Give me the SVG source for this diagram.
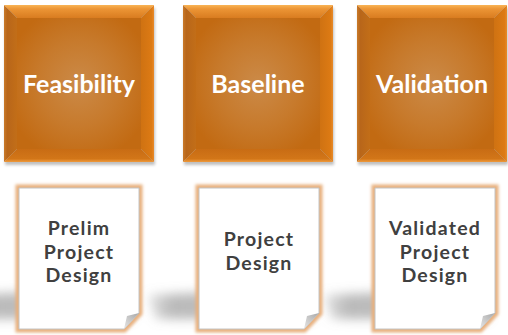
<svg xmlns="http://www.w3.org/2000/svg" width="508" height="335" viewBox="0 0 508 335">
<style>
.btxt{font-family:"Lato","Open Sans","DejaVu Sans",sans-serif;font-weight:700;font-size:25px;fill:#ffffff;text-anchor:middle}
.dtxt{font-family:"Lato","Open Sans","DejaVu Sans",sans-serif;font-weight:700;font-size:19.5px;fill:#404040;text-anchor:middle;letter-spacing:1.2px}
.page{fill:#ffffff;stroke:#c4c4c4;stroke-width:1}
.glow{fill:none;stroke:#e8b07e;stroke-width:7}
.fold{fill:url(#foldG)}
.pshadow{fill:url(#shG)}
</style>
<defs>
<filter id="soft" x="-10%" y="-10%" width="120%" height="120%"><feGaussianBlur stdDeviation="1.4"/></filter>
<filter id="blur5" x="-30%" y="-200%" width="160%" height="500%"><feGaussianBlur stdDeviation="5.5"/></filter>
<filter id="blur2" x="-10%" y="-10%" width="120%" height="120%"><feGaussianBlur stdDeviation="1.8"/></filter>
<linearGradient id="shG" x1="0" y1="0" x2="1" y2="0">
<stop offset="0" stop-color="#8c8c8c" stop-opacity="0.25"/>
<stop offset="0.15" stop-color="#8c8c8c" stop-opacity="0.6"/>
<stop offset="1" stop-color="#8c8c8c" stop-opacity="0.5"/>
</linearGradient>
<radialGradient id="faceG" cx="0.5" cy="0.5" r="0.6">
<stop offset="0" stop-color="#cb8a48"/>
<stop offset="0.55" stop-color="#c77a2c"/>
<stop offset="1" stop-color="#c26a12"/>
</radialGradient>
<linearGradient id="topG" x1="0" y1="0" x2="0" y2="1">
<stop offset="0" stop-color="#f9b455"/>
<stop offset="0.3" stop-color="#ec9535"/>
<stop offset="1" stop-color="#d97c20"/>
</linearGradient>
<linearGradient id="leftG" x1="0" y1="0" x2="1" y2="0">
<stop offset="0" stop-color="#c97a2a"/>
<stop offset="0.25" stop-color="#b8661a"/>
<stop offset="1" stop-color="#c26e18"/>
</linearGradient>
<linearGradient id="rightG" x1="0" y1="0" x2="1" y2="0">
<stop offset="0" stop-color="#cf7212"/>
<stop offset="0.8" stop-color="#dc7a14"/>
<stop offset="1" stop-color="#e88a2a"/>
</linearGradient>
<linearGradient id="botG" x1="0" y1="0" x2="0" y2="1">
<stop offset="0" stop-color="#c86c14"/>
<stop offset="0.75" stop-color="#d27618"/>
<stop offset="1" stop-color="#ef9a3c"/>
</linearGradient>
<linearGradient id="foldG" x1="0" y1="1" x2="1" y2="0">
<stop offset="0" stop-color="#e6e6e6"/>
<stop offset="1" stop-color="#a8a8a8"/>
</linearGradient>
<g id="bevelBox">
<polygon points="0,0 150,0 137,13 13,13" fill="url(#topG)"/>
<polygon points="0,0 13,13 13,144 0,157" fill="url(#leftG)"/>
<polygon points="150,0 150,157 137,144 137,13" fill="url(#rightG)"/>
<polygon points="0,157 13,144 137,144 150,157" fill="url(#botG)"/>
<rect x="13" y="13" width="124" height="131" fill="url(#faceG)"/>
</g>
<path id="pageShape" d="M0,0 H120 V125 L105,141 H0 Z"/>
</defs>

<g id="box-shadows" fill="#000" opacity="0.25" filter="url(#blur2)">
<rect x="5" y="8" width="150" height="157"/>
<rect x="184" y="8" width="150" height="157"/>
<rect x="358" y="8" width="150" height="157"/>
</g>

<g id="feasibility">
<use href="#bevelBox" x="4" y="5"/>
<text class="btxt" x="79" y="93">Feasibility</text>
</g>
<g id="baseline">
<use href="#bevelBox" x="183" y="5"/>
<text class="btxt" x="258" y="93">Baseline</text>
</g>
<g id="validation">
<use href="#bevelBox" x="357" y="5"/>
<text class="btxt" x="432" y="93">Validation</text>
</g>

<g id="page-shadows" filter="url(#blur5)">
<polygon class="pshadow" points="-32,295 60,291 130,295 132,319 -24,319"/>
<polygon class="pshadow" points="148,295 240,291 310,295 312,319 156,319"/>
<polygon class="pshadow" points="324,295 416,291 486,295 488,319 332,319"/>
</g>

<g id="doc-prelim">
<use href="#pageShape" x="19" y="188" class="glow" filter="url(#soft)"/>
<use href="#pageShape" x="19" y="188" class="page"/>
<polygon class="fold" points="124,329 139,313 127,316"/>
<text class="dtxt" x="79" y="235">Prelim</text>
<text class="dtxt" x="79" y="258.5">Project</text>
<text class="dtxt" x="79" y="282">Design</text>
</g>
<g id="doc-project">
<use href="#pageShape" x="199" y="188" class="glow" filter="url(#soft)"/>
<use href="#pageShape" x="199" y="188" class="page"/>
<polygon class="fold" points="304,329 319,313 307,316"/>
<text class="dtxt" x="259" y="246">Project</text>
<text class="dtxt" x="259" y="269.5">Design</text>
</g>
<g id="doc-validated">
<use href="#pageShape" x="375" y="188" class="glow" filter="url(#soft)"/>
<use href="#pageShape" x="375" y="188" class="page"/>
<polygon class="fold" points="480,329 495,313 483,316"/>
<text class="dtxt" x="435" y="235">Validated</text>
<text class="dtxt" x="435" y="258.5">Project</text>
<text class="dtxt" x="435" y="282">Design</text>
</g>

<g id="connectors"/>
</svg>
